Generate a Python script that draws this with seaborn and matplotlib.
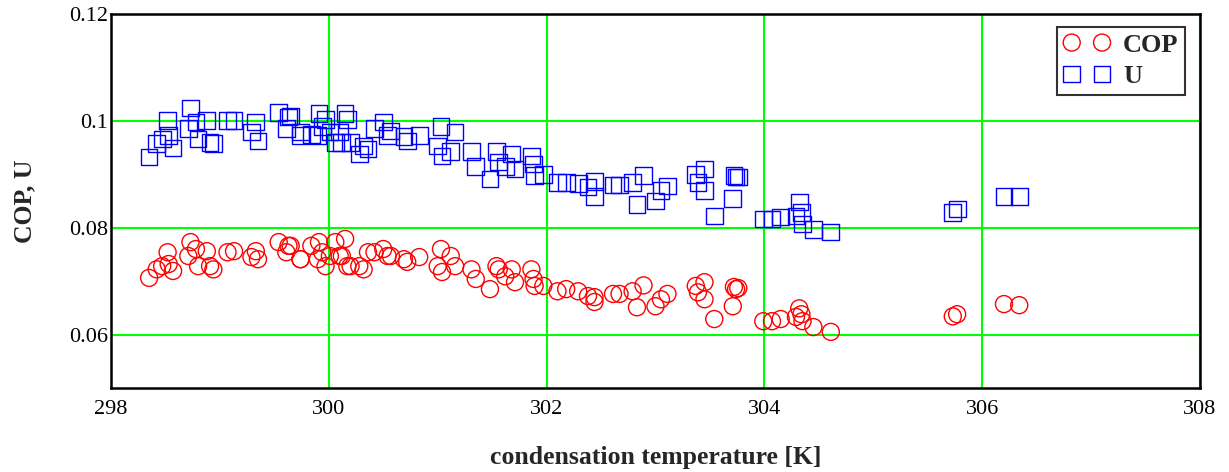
import pandas as pd
import numpy as np
import seaborn as sns
import matplotlib.pyplot as plt

temperature = [
    298.35, 298.42, 298.47, 298.52, 298.53, 298.57, 298.71, 298.73, 298.78, 298.80,
    298.88, 298.91, 298.94, 299.07, 299.13, 299.29, 299.33, 299.35, 299.54, 299.63,
    299.61, 299.74, 299.65, 299.74, 299.84, 299.91, 299.90, 299.94, 299.97, 300.01,
    300.06, 300.10, 300.15, 300.17, 300.12, 300.20, 300.28, 300.32, 300.36, 300.42,
    300.50, 300.57, 300.54, 300.69, 300.72, 300.83, 301.03, 301.00, 301.04, 301.12,
    301.16, 301.31, 301.35, 301.48, 301.54, 301.56, 301.62, 301.68, 301.71, 301.86,
    301.88, 301.89, 301.97, 302.10, 302.18, 302.29, 302.38, 302.44, 302.44, 302.61,
    302.67, 302.79, 302.83, 302.89, 303.00, 303.05, 303.11, 303.37, 303.45, 303.39,
    303.45, 303.54, 303.71, 303.72, 303.74, 303.76, 303.99, 304.07, 304.15, 304.29,
    304.32, 304.34, 304.35, 304.45, 304.61, 305.73, 305.77, 306.20, 306.34,
]
cop = [
    0.0706, 0.0722, 0.0728, 0.0754, 0.0732, 0.0719, 0.0747, 0.0773, 0.0760, 0.0728,
    0.0756, 0.0728, 0.0722, 0.0754, 0.0756, 0.0745, 0.0756, 0.0741, 0.0773, 0.0766,
    0.0754, 0.0741, 0.0766, 0.0741, 0.0766, 0.0773, 0.0741, 0.0754, 0.0728, 0.0747,
    0.0773, 0.0747, 0.0779, 0.0728, 0.0747, 0.0728, 0.0728, 0.0722, 0.0754, 0.0754,
    0.0760, 0.0747, 0.0747, 0.0741, 0.0736, 0.0745, 0.0760, 0.0728, 0.0717, 0.0747,
    0.0728, 0.0722, 0.0704, 0.0685, 0.0728, 0.0722, 0.0709, 0.0722, 0.0698, 0.0722,
    0.0704, 0.0691, 0.0691, 0.0681, 0.0685, 0.0681, 0.0672, 0.0670, 0.0661, 0.0676,
    0.0676, 0.0681, 0.0651, 0.0692, 0.0653, 0.0666, 0.0676, 0.0691, 0.0698, 0.0679,
    0.0666, 0.0629, 0.0653, 0.0689, 0.0685, 0.0687, 0.0625, 0.0625, 0.0629, 0.0633,
    0.0649, 0.0638, 0.0625, 0.0614, 0.0605, 0.0634, 0.0638, 0.0657, 0.0655,
]
u = [
    0.0932, 0.0957, 0.0966, 0.1000, 0.0972, 0.0949, 0.0985, 0.1024, 0.0998, 0.0966,
    0.1000, 0.0960, 0.0957, 0.1001, 0.1001, 0.0979, 0.0998, 0.0962, 0.1016, 0.1007,
    0.0985, 0.0972, 0.1009, 0.0979, 0.0975, 0.1013, 0.0972, 0.0990, 0.1003, 0.0979,
    0.0960, 0.0979, 0.1013, 0.1003, 0.0960, 0.0960, 0.0938, 0.0953, 0.0947, 0.0985,
    0.0998, 0.0981, 0.0972, 0.0970, 0.0962, 0.0972, 0.0990, 0.0953, 0.0934, 0.0943,
    0.0979, 0.0942, 0.0915, 0.0891, 0.0942, 0.0923, 0.0915, 0.0938, 0.0910, 0.0934,
    0.0919, 0.0897, 0.0900, 0.0885, 0.0885, 0.0882, 0.0876, 0.0887, 0.0859, 0.0880,
    0.0880, 0.0885, 0.0844, 0.0897, 0.0850, 0.0869, 0.0878, 0.0900, 0.0910, 0.0885,
    0.0869, 0.0822, 0.0854, 0.0897, 0.0895, 0.0895, 0.0816, 0.0816, 0.0820, 0.0822,
    0.0848, 0.0829, 0.0807, 0.0797, 0.0792, 0.0829, 0.0835, 0.0859, 0.0859,
]

df = pd.DataFrame({"T": temperature, "COP": cop, "U": u})

sns.set_style("white")
plt.rcParams['font.family'] = ['Liberation Serif', 'DejaVu Serif']

fig = plt.figure(figsize=(12.29, 4.72), dpi=100)
ax = fig.add_axes([0.0903, 0.178, 0.8861, 0.7925])

sns.scatterplot(data=df, x="T", y="COP", ax=ax, marker="o", s=150,
                facecolors="none", edgecolor="#ff0000", linewidth=1.0, label="COP", zorder=3)
sns.scatterplot(data=df, x="T", y="U", ax=ax, marker="s", s=145,
                facecolors="none", edgecolor="#0000ff", linewidth=1.0, label="U", zorder=3)

ax.set_xlim(298, 308)
ax.set_ylim(0.05, 0.12)
ax.set_xticks([298, 300, 302, 304, 306, 308])
ax.set_yticks([0.06, 0.08, 0.1, 0.12])
ax.set_yticklabels(["0.06", "0.08", "0.1", "0.12"])
ax.grid(True, color="#00ff00", linewidth=1.5, zorder=0)
ax.set_axisbelow(True)
ax.tick_params(axis="y", length=0, labelsize=16, pad=2, colors="black")
ax.tick_params(axis="x", length=0, labelsize=16, pad=9, colors="black")
for sp in ax.spines.values():
    sp.set_color("black")
    sp.set_linewidth(1.8)

ax.set_xlabel("condensation temperature [K]", fontsize=18.5, fontweight="bold", labelpad=19)
ax.set_ylabel("COP, U", fontsize=18.5, fontweight="bold", labelpad=24)

leg = ax.legend(loc="upper right", bbox_to_anchor=(1185 / 1229, 1 - 27 / 472),
                bbox_transform=fig.transFigure, borderaxespad=0,
                scatterpoints=2, scatteryoffsets=[0.5], numpoints=2,
                prop={"weight": "bold", "size": 19}, frameon=True, fancybox=False,
                handlelength=1.75, handletextpad=0.5, borderpad=0.24, labelspacing=0.3)
leg.get_frame().set_edgecolor("black")
leg.get_frame().set_linewidth(1.5)

fig.savefig("out.png", dpi=100)
